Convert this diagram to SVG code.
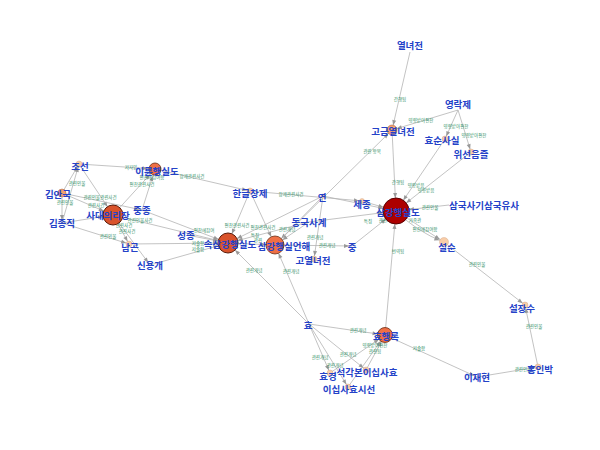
<svg xmlns="http://www.w3.org/2000/svg" width="600" height="450" viewBox="0 0 600 450">
<style>
.e{stroke:#b4b4b4;stroke-width:0.8;fill:none}
.el{font-family:"Noto Sans CJK KR","Noto Sans",sans-serif;font-size:4.5px;fill:#2f8f66;text-anchor:middle}
.nl{font-family:"Noto Sans CJK KR","Noto Sans",sans-serif;font-size:9.5px;font-weight:bold;fill:#2442c8;text-anchor:middle;dominant-baseline:central}
.big{fill:#ad0000;stroke:#5a0000;stroke-width:1}
.lg{fill:#d9532b;stroke:#5a1a08;stroke-width:1}
.md{fill:#ee6f45;stroke:#6a2a10;stroke-width:0.8}
.sm{fill:#f2a070;stroke:#a06040;stroke-width:0.5}
.ti{fill:#f8cda8;stroke:#d0a080;stroke-width:0.4}
.ah{fill:#999}
</style>
<defs>
<marker id="m3" markerUnits="userSpaceOnUse" markerWidth="6" markerHeight="5" refX="8" refY="2" orient="auto" overflow="visible"><path class="ah" d="M0,0 L5,2 L0,4 z"/></marker>
<marker id="m5" markerUnits="userSpaceOnUse" markerWidth="6" markerHeight="5" refX="10" refY="2" orient="auto" overflow="visible"><path class="ah" d="M0,0 L5,2 L0,4 z"/></marker>
<marker id="m7" markerUnits="userSpaceOnUse" markerWidth="6" markerHeight="5" refX="12.5" refY="2" orient="auto" overflow="visible"><path class="ah" d="M0,0 L5,2 L0,4 z"/></marker>
<marker id="m9" markerUnits="userSpaceOnUse" markerWidth="6" markerHeight="5" refX="14" refY="2" orient="auto" overflow="visible"><path class="ah" d="M0,0 L5,2 L0,4 z"/></marker>
<marker id="m10" markerUnits="userSpaceOnUse" markerWidth="6" markerHeight="5" refX="15" refY="2" orient="auto" overflow="visible"><path class="ah" d="M0,0 L5,2 L0,4 z"/></marker>
<marker id="m13" markerUnits="userSpaceOnUse" markerWidth="6" markerHeight="5" refX="18" refY="2" orient="auto" overflow="visible"><path class="ah" d="M0,0 L5,2 L0,4 z"/></marker>
</defs>
<rect width="600" height="450" fill="#ffffff"/>
<g id="connectors">
<path class="e" d="M410,52 L392,130" marker-end="url(#m5)"/>
<path class="e" d="M458,110 L392,130" marker-end="url(#m5)"/>
<path class="e" d="M458,110 L445,139" marker-end="url(#m3)"/>
<path class="e" d="M458,110 L471,152" marker-end="url(#m3)"/>
<path class="e" d="M392,130 L396,211" marker-end="url(#m13)"/>
<path class="e" d="M445,139 L396,211" marker-end="url(#m13)"/>
<path class="e" d="M471,152 L396,211" marker-end="url(#m13)"/>
<path class="e" d="M449,205 L396,211" marker-end="url(#m13)"/>
<path class="e" d="M396,211 L444,242" marker-end="url(#m5)"/>
<path class="e" d="M396,211 Q417,232 444,242" marker-end="url(#m5)"/>
<path class="e" d="M444,242 L525,305" marker-end="url(#m3)"/>
<path class="e" d="M538,367 L525,305" marker-end="url(#m3)"/>
<path class="e" d="M477,377 L538,367" marker-end="url(#m3)"/>
<path class="e" d="M385,335 L477,377" marker-end="url(#m3)"/>
<path class="e" d="M385,335 L396,211" marker-end="url(#m13)"/>
<path class="e" d="M309,324 L385,335" marker-end="url(#m7)"/>
<path class="e" d="M309,324 L228,243" marker-end="url(#m10)"/>
<path class="e" d="M309,324 L275,245" marker-end="url(#m9)"/>
<path class="e" d="M309,324 L330,373" marker-end="url(#m3)"/>
<path class="e" d="M309,324 L348,387" marker-end="url(#m3)"/>
<path class="e" d="M309,324 L366,370" marker-end="url(#m3)"/>
<path class="e" d="M330,373 L385,335" marker-end="url(#m7)"/>
<path class="e" d="M366,370 L385,335" marker-end="url(#m7)"/>
<path class="e" d="M348,387 L385,335" marker-end="url(#m7)"/>
<path class="e" d="M250,191 L362,201" marker-end="url(#m3)"/>
<path class="e" d="M362,201 L396,211" marker-end="url(#m13)"/>
<path class="e" d="M323,196 L396,211" marker-end="url(#m13)"/>
<path class="e" d="M309,222 L396,211" marker-end="url(#m13)"/>
<path class="e" d="M352,246 L396,211" marker-end="url(#m13)"/>
<path class="e" d="M275,245 L352,246" marker-end="url(#m3)"/>
<path class="e" d="M323,196 L314,259" marker-end="url(#m3)"/>
<path class="e" d="M323,196 L228,243" marker-end="url(#m10)"/>
<path class="e" d="M323,196 L275,245" marker-end="url(#m9)"/>
<path class="e" d="M275,245 L392,130" marker-end="url(#m5)"/>
<path class="e" d="M309,222 L275,245" marker-end="url(#m9)"/>
<path class="e" d="M309,222 L228,243" marker-end="url(#m10)"/>
<path class="e" d="M250,191 L228,243" marker-end="url(#m10)"/>
<path class="e" d="M250,191 L275,245" marker-end="url(#m9)"/>
<path class="e" d="M228,243 L275,245" marker-end="url(#m9)"/>
<path class="e" d="M187,235 L228,243" marker-end="url(#m10)"/>
<path class="e" d="M129,244 L228,243" marker-end="url(#m10)"/>
<path class="e" d="M150,265 L228,243" marker-end="url(#m10)"/>
<path class="e" d="M142,210 L228,243" marker-end="url(#m10)"/>
<path class="e" d="M113,215 L228,243" marker-end="url(#m10)"/>
<path class="e" d="M79,164 L155,169" marker-end="url(#m7)"/>
<path class="e" d="M155,169 L250,191" marker-end="url(#m3)"/>
<path class="e" d="M79,164 L113,215" marker-end="url(#m10)"/>
<path class="e" d="M62,193 L79,164" marker-end="url(#m3)"/>
<path class="e" d="M62,223 L79,164" marker-end="url(#m3)"/>
<path class="e" d="M62,193 L62,223" marker-end="url(#m3)"/>
<path class="e" d="M62,193 L113,215" marker-end="url(#m10)"/>
<path class="e" d="M62,193 L142,210" marker-end="url(#m3)"/>
<path class="e" d="M62,223 L113,215" marker-end="url(#m10)"/>
<path class="e" d="M62,223 L129,244" marker-end="url(#m3)"/>
<path class="e" d="M113,215 L155,169" marker-end="url(#m7)"/>
<path class="e" d="M142,210 L155,169" marker-end="url(#m7)"/>
<path class="e" d="M113,215 L129,244" marker-end="url(#m3)"/>
<path class="e" d="M113,215 L150,265" marker-end="url(#m3)"/>
<g id="edge-labels">
<text class="el" x="400" y="101">간행됨</text>
<text class="el" x="421" y="122">영향받아편찬</text>
<text class="el" x="456" y="128">영향받아편찬</text>
<text class="el" x="474" y="137">영향받아편찬</text>
<text class="el" x="372" y="153">관련 항목</text>
<text class="el" x="398" y="184">간행됨</text>
<text class="el" x="416" y="187">영향받음</text>
<text class="el" x="426" y="192">영향받음</text>
<text class="el" x="430" y="209">관련인물</text>
<text class="el" x="415" y="222">가족관</text>
<text class="el" x="425" y="231">편찬에참여함</text>
<text class="el" x="477" y="266">관련인물</text>
<text class="el" x="534" y="328">관련인물</text>
<text class="el" x="523" y="371">관련인물</text>
<text class="el" x="419" y="350">저술함</text>
<text class="el" x="398" y="253">번역됨</text>
<text class="el" x="358" y="332">관련개념</text>
<text class="el" x="254" y="272">관련개념</text>
<text class="el" x="291" y="273">관련개념</text>
<text class="el" x="320" y="359">관련개념</text>
<text class="el" x="335" y="367">관련개념</text>
<text class="el" x="348" y="356">관련개념</text>
<text class="el" x="375" y="347">영향받아편찬</text>
<text class="el" x="375" y="353">관련됨</text>
<text class="el" x="291" y="196">창제관련사건</text>
<text class="el" x="368" y="223">특징</text>
<text class="el" x="387" y="222">관련개념</text>
<text class="el" x="327" y="247">관련개념</text>
<text class="el" x="315" y="239">관련개념</text>
<text class="el" x="237" y="227">편찬관련사건</text>
<text class="el" x="263" y="229">편찬관련사건</text>
<text class="el" x="287" y="231">관련개념</text>
<text class="el" x="255" y="237">특징</text>
<text class="el" x="258" y="242">관련</text>
<text class="el" x="204" y="232">편찬에참여</text>
<text class="el" x="198" y="245">저술함</text>
<text class="el" x="198" y="251">저술함</text>
<text class="el" x="131" y="169">저자임</text>
<text class="el" x="192" y="178">창제관련사건</text>
<text class="el" x="77" y="185">관련인물</text>
<text class="el" x="65" y="204">관련인물</text>
<text class="el" x="100" y="199">관련인물관련사건</text>
<text class="el" x="96" y="207">관련사건</text>
<text class="el" x="142" y="186">편찬관련사건</text>
<text class="el" x="152" y="179">편찬에참여함</text>
<text class="el" x="140" y="222">관련인물사건</text>
<text class="el" x="124" y="227">관련사건</text>
<text class="el" x="127" y="233">관련사건</text>
<text class="el" x="108" y="238">관련인물</text>
</g>
</g>
<g id="n-yeollyeojeon"><text class="nl" x="410" y="45">열녀전</text></g>
<g id="n-yeongnakje"><text class="nl" x="458" y="104">영락제</text></g>
<g id="n-gogeum"><circle class="sm" cx="392" cy="130" r="5"/><text class="nl" x="393" y="131">고금열녀전</text></g>
<g id="n-hyosun"><circle class="ti" cx="445" cy="139" r="3"/><text class="nl" x="442" y="140">효순사실</text></g>
<g id="n-wiseon"><circle class="ti" cx="471" cy="152" r="3"/><text class="nl" x="471" y="154">위선음즐</text></g>
<g id="n-samgang"><circle class="big" cx="396" cy="211" r="13"/><text class="nl" x="398" y="212">삼강행실도</text></g>
<g id="n-samguk"><text class="nl" x="484" y="205">삼국사기삼국유사</text></g>
<g id="n-sejong"><circle class="ti" cx="362" cy="201" r="2.5"/><text class="nl" x="362" y="204">세종</text></g>
<g id="n-yeon"><circle class="ti" cx="323" cy="196" r="2"/><text class="nl" x="322" y="197">연</text></g>
<g id="n-hangeul"><circle class="ti" cx="250" cy="191" r="3"/><text class="nl" x="250" y="193">한글창제</text></g>
<g id="n-dongguk"><text class="nl" x="309" y="222">동국사계</text></g>
<g id="n-jung"><text class="nl" x="352" y="247">중</text></g>
<g id="n-goyeol"><circle class="ti" cx="314" cy="259" r="3"/><text class="nl" x="313" y="260">고열녀전</text></g>
<g id="n-soksamgang"><circle class="lg" cx="228" cy="243" r="10"/><text class="nl" x="230" y="244">속삼강행실도</text></g>
<g id="n-eonhae"><circle class="md" cx="275" cy="245" r="9"/><text class="nl" x="284" y="246">삼강행실언해</text></g>
<g id="n-seongjong"><text class="nl" x="186" y="235">성종</text></g>
<g id="n-seolsun"><circle class="ti" cx="444" cy="242" r="4.5"/><text class="nl" x="447" y="247">설순</text></g>
<g id="n-seoljangsu"><circle class="ti" cx="525" cy="305" r="3"/><text class="nl" x="522" y="308">설장수</text></g>
<g id="n-hongin"><circle class="ti" cx="538" cy="367" r="3"/><text class="nl" x="540" y="369">홍인박</text></g>
<g id="n-ijehyeon"><text class="nl" x="477" y="377">이재현</text></g>
<g id="n-hyohaeng"><circle class="md" cx="385" cy="335" r="7.5"/><text class="nl" x="386" y="336">효행록</text></g>
<g id="n-hyo"><text class="nl" x="308" y="325">효</text></g>
<g id="n-hyogyeong"><circle class="ti" cx="330" cy="373" r="3"/><text class="nl" x="328" y="376">효경</text></g>
<g id="n-seokgak"><circle class="ti" cx="366" cy="370" r="3"/><text class="nl" x="367" y="372">석각본이십사효</text></g>
<g id="n-isipsa"><circle class="ti" cx="348" cy="387" r="3"/><text class="nl" x="349" y="389">이십사효시선</text></g>
<g id="n-iryun"><circle class="md" cx="155" cy="169" r="6"/><text class="nl" x="157" y="171">이륜행실도</text></g>
<g id="n-joseon"><circle class="ti" cx="79" cy="164" r="3"/><text class="nl" x="80" y="166">조선</text></g>
<g id="n-gimanguk"><circle class="sm" cx="62" cy="193" r="4"/><text class="nl" x="58" y="194">김안국</text></g>
<g id="n-sadae"><circle class="lg" cx="113" cy="215" r="10"/><text class="nl" x="108" y="215">사대의리장</text></g>
<g id="n-jungjong"><text class="nl" x="142" y="210">중종</text></g>
<g id="n-gimjongjik"><text class="nl" x="62" y="223">김종직</text></g>
<g id="n-namgon"><circle class="ti" cx="129" cy="244" r="3"/><text class="nl" x="130" y="247">남곤</text></g>
<g id="n-sinyonggae"><text class="nl" x="150" y="265">신용개</text></g>
</svg>
